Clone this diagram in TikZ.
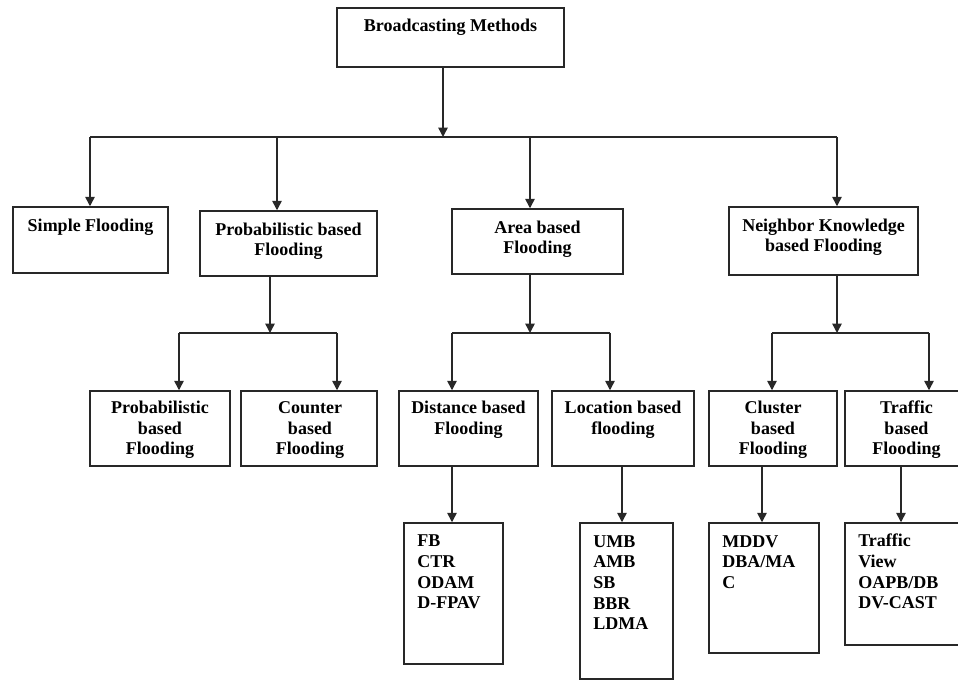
\documentclass[tikz,border=0pt]{standalone}
\usepackage{fontspec}
\setmainfont{Liberation Serif}
\usetikzlibrary{arrows.meta,fit}
\definecolor{lc}{RGB}{40,40,40}
\begin{document}
\begin{tikzpicture}[x=0.75pt,y=-0.75pt,
  box/.style={draw=lc, line width=1.1pt, inner sep=0pt, rectangle},
  ln/.style={draw=lc, line width=1.1pt},
  arr/.style={draw=lc, line width=1.1pt, -{Triangle[width=7pt,length=7pt]}},
  txt/.style={font=\bfseries\fontsize{13.5}{15.5}\selectfont, inner sep=0pt, align=center, anchor=base},
  leaf/.style={txt, align=left, anchor=base west}]
\path[use as bounding box, clip] (0,0) rectangle (958,680);
% boxes
\node[box, fit={(337,8) (564,67)}] (root) {};
\node[box, fit={(13,207) (168,273)}] (simple) {};
\node[box, fit={(200,211) (377,276)}] (prob) {};
\node[box, fit={(452,209) (623,274)}] (area) {};
\node[box, fit={(729,207) (918,275)}] (neigh) {};
\node[box, fit={(90,391) (230,466)}] (probf) {};
\node[box, fit={(241,391) (377,466)}] (counter) {};
\node[box, fit={(399,391) (538,466)}] (dist) {};
\node[box, fit={(552,391) (694,466)}] (loc) {};
\node[box, fit={(709,391) (837,466)}] (clus) {};
\node[box, fit={(845,391) (968,466)}] (traf) {};
\node[box, fit={(404,523) (503,664)}] (distl) {};
\node[box, fit={(580,523) (673,679)}] (locl) {};
\node[box, fit={(709,523) (819,653)}] (clusl) {};
\node[box, fit={(845,523) (968,645)}] (trafl) {};
% texts (anchored at the baseline of their last line)
\node[txt] (rootT) at (450.5,31.5) {Broadcasting Methods};
\node[txt] (simpleT) at (90.5,232) {Simple Flooding};
\node[txt] (probT) at (288.5,256) {Probabilistic based\\Flooding};
\node[txt] (areaT) at (537.5,254) {Area based\\Flooding};
\node[txt] (neighT) at (823.5,252) {Neighbor Knowledge\\based Flooding};
\node[txt] (probfT) at (160,455) {Probabilistic\\based\\Flooding};
\node[txt] (counterT) at (310,455) {Counter\\based\\Flooding};
\node[txt] (distT) at (468.5,434.5) {Distance based\\Flooding};
\node[txt] (locT) at (623,434.5) {Location based\\flooding};
\node[txt] (clusT) at (773,455) {Cluster\\based\\Flooding};
\node[txt] (trafT) at (906.5,455) {Traffic\\based\\Flooding};
\node[leaf] (distlT) at (417,609) {FB\\CTR\\ODAM\\D-FPAV};
\node[leaf] (loclT) at (593,630) {UMB\\AMB\\SB\\BBR\\LDMA};
\node[leaf] (cluslT) at (722,588.5) {MDDV\\DBA/MA\\C};
\node[leaf] (traflT) at (858,609) {Traffic\\View\\OAPB/DB\\DV-CAST};
% level 1 connectors
\coordinate (j0) at (443,137);
\coordinate (bL) at (90,137);
\coordinate (bR) at (837,137);
\coordinate (j1) at (277,137);
\coordinate (j2) at (530,137);
\draw[arr] (root.south -| j0) -- (j0);
\draw[ln] (bL) -- (bR);
\draw[arr] (bL) -- (simple.north -| bL);
\draw[arr] (j1) -- (prob.north -| j1);
\draw[arr] (j2) -- (area.north -| j2);
\draw[arr] (bR) -- (neigh.north -| bR);
% probabilistic subtree
\coordinate (p0) at (270,333);
\coordinate (pL) at (179,333);
\coordinate (pR) at (337,333);
\draw[arr] (prob.south -| p0) -- (p0);
\draw[ln] (pL) -- (pR);
\draw[arr] (pL) -- (probf.north -| pL);
\draw[arr] (pR) -- (counter.north -| pR);
% area subtree
\coordinate (a0) at (530,333);
\coordinate (aL) at (452,333);
\coordinate (aR) at (610,333);
\draw[arr] (area.south -| a0) -- (a0);
\draw[ln] (aL) -- (aR);
\draw[arr] (aL) -- (dist.north -| aL);
\draw[arr] (aR) -- (loc.north -| aR);
% neighbor subtree
\coordinate (n0) at (837,333);
\coordinate (nL) at (772,333);
\coordinate (nR) at (929,333);
\draw[arr] (neigh.south -| n0) -- (n0);
\draw[ln] (nL) -- (nR);
\draw[arr] (nL) -- (clus.north -| nL);
\draw[arr] (nR) -- (traf.north -| nR);
% leaves
\coordinate (d0) at (452,466);
\coordinate (l0) at (622,466);
\coordinate (c0) at (762,466);
\coordinate (t0) at (901,466);
\draw[arr] (d0) -- (distl.north -| d0);
\draw[arr] (l0) -- (locl.north -| l0);
\draw[arr] (c0) -- (clusl.north -| c0);
\draw[arr] (t0) -- (trafl.north -| t0);
\end{tikzpicture}
\end{document}
